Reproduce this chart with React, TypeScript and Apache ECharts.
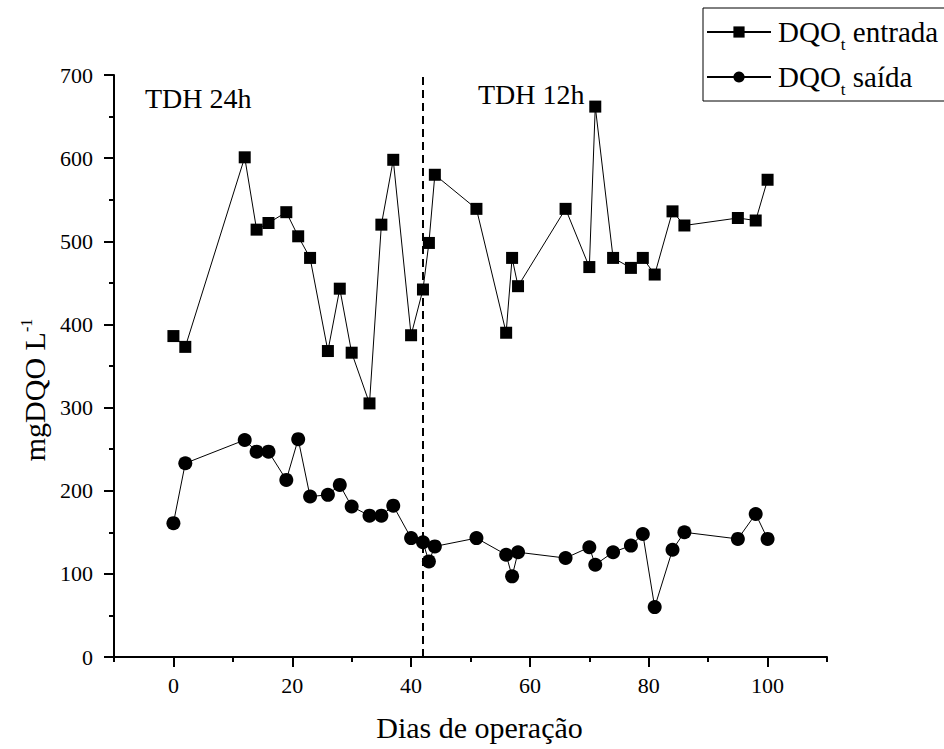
import React, { useEffect, useRef } from "react";
import * as echarts from "echarts";

const diasEntrada = [0, 2, 12, 14, 16, 19, 21, 23, 26, 28, 30, 33, 35, 37, 40, 42, 43, 44, 51, 56, 57, 58, 66, 70, 71, 74, 77, 79, 81, 84, 86, 95, 98, 100];
const dqoEntrada = [386, 373, 601, 514, 522, 535, 506, 480, 368, 443, 366, 305, 520, 598, 387, 442, 498, 580, 539, 390, 480, 446, 539, 469, 662, 480, 468, 480, 460, 536, 519, 528, 525, 574];
const diasSaida = [0, 2, 12, 14, 16, 19, 21, 23, 26, 28, 30, 33, 35, 37, 40, 42, 43, 44, 51, 56, 57, 58, 66, 70, 71, 74, 77, 79, 81, 84, 86, 95, 98, 100];
const dqoSaida = [161, 233, 261, 247, 247, 213, 262, 193, 195, 207, 181, 170, 170, 182, 143, 138, 115, 133, 143, 123, 97, 126, 119, 132, 111, 126, 134, 148, 60, 129, 150, 142, 172, 142];
const xMajorTicks = [0, 20, 40, 60, 80, 100];
const mudancaTDH = 42;
const seriesNames = ["DQOt entrada", "DQOt saída"];

const FONT = "Liberation Serif";

export default function App() {
  const ref = useRef<HTMLDivElement>(null);
  useEffect(() => {
    if (!ref.current) return;
    const chart = echarts.init(ref.current, null, { renderer: "svg" });
    chart.setOption({
      animation: false,
      backgroundColor: "#fff",
      grid: { left: 114, top: 75, right: 117, bottom: 92, containLabel: false },
      legend: {
        orient: "vertical",
        left: 703,
        top: 8,
        padding: [3, 12, 3, 3],
        itemGap: 3,
        itemWidth: 64,
        itemHeight: 14,
        borderColor: "#000",
        borderWidth: 1,
        borderRadius: 0,
        backgroundColor: "#fff",
        data: seriesNames,
        formatter: (n: string) => (n === seriesNames[0] ? "DQO{sub|t} entrada" : "DQO{sub|t} saída"),
        textStyle: {
          fontFamily: FONT,
          fontSize: 29,
          lineHeight: 42,
          color: "#000",
          padding: [0, 0, 0, 2],
          rich: {
            sub: { fontFamily: FONT, fontSize: 17, lineHeight: 16, color: "#000", verticalAlign: "bottom" },
          },
        },
      },
      xAxis: [
        {
          type: "value",
          min: -10,
          max: 110,
          interval: 10,
          position: "bottom",
          axisLine: { show: true, onZero: false, lineStyle: { color: "#000", width: 2 } },
          splitLine: { show: false },
          axisTick: { show: true, length: 10, lineStyle: { color: "#000", width: 2 }, customValues: xMajorTicks },
          axisLabel: {
            customValues: xMajorTicks,
            margin: 17,
            fontFamily: FONT,
            fontSize: 22,
            color: "#000",
          },
          name: "Dias de operação",
          nameLocation: "middle",
          nameGap: 55,
          nameTextStyle: { fontFamily: FONT, fontSize: 30, color: "#000", padding: [0, 0, 0, 18] },
        },
        {
          type: "value",
          min: -10,
          max: 110,
          interval: 10,
          position: "bottom",
          offset: 0,
          axisLine: { show: false, onZero: false },
          splitLine: { show: false },
          axisTick: { show: true, length: 5, lineStyle: { color: "#000", width: 2 } },
          axisLabel: { show: false },
        },
      ],
      yAxis: {
        type: "value",
        min: 0,
        max: 700,
        interval: 100,
        position: "left",
        axisLine: { show: true, onZero: false, lineStyle: { color: "#000", width: 2 } },
        splitLine: { show: false },
        axisTick: { show: true, length: 10, lineStyle: { color: "#000", width: 2 } },
        minorTick: { show: true, splitNumber: 2, length: 5, lineStyle: { color: "#000", width: 2 } },
        minorSplitLine: { show: false },
        axisLabel: { margin: 21, fontFamily: FONT, fontSize: 22, color: "#000" },
        name: "mgDQO L{sup|-1}",
        nameLocation: "middle",
        nameGap: 58,
        nameTextStyle: {
          fontFamily: FONT,
          fontSize: 30,
          color: "#000",
          padding: [0, 48, 0, 0],
          rich: { sup: { fontFamily: FONT, fontSize: 16, color: "#000", padding: [0, 0, 16, 0] } },
        },
      },
      graphic: [
        { type: "text", x: 145, y: 98, style: { text: "TDH 24h", font: `28px '${FONT}'`, fill: "#000", verticalAlign: "middle" } },
        { type: "text", x: 478, y: 94, style: { text: "TDH 12h", font: `28px '${FONT}'`, fill: "#000", verticalAlign: "middle" } },
      ],
      series: [
        {
          name: seriesNames[0],
          type: "line",
          xAxisIndex: 0,
          data: diasEntrada.map((d, i) => [d, dqoEntrada[i]]),
          symbol: "rect",
          symbolSize: 12,
          itemStyle: { color: "#000" },
          lineStyle: { color: "#000", width: 1 },
          markLine: {
            silent: true,
            symbol: "none",
            label: { show: false },
            lineStyle: { color: "#000", width: 2, type: [8, 5] },
            data: [{ xAxis: mudancaTDH }],
          },
        },
        {
          name: seriesNames[1],
          type: "line",
          xAxisIndex: 0,
          data: diasSaida.map((d, i) => [d, dqoSaida[i]]),
          symbol: "circle",
          symbolSize: 14,
          itemStyle: { color: "#000" },
          lineStyle: { color: "#000", width: 1 },
        },
      ],
    });
    return () => chart.dispose();
  }, []);
  return <div ref={ref} style={{ width: 944, height: 749, position: "absolute", left: 0, top: 0 }} />;
}
